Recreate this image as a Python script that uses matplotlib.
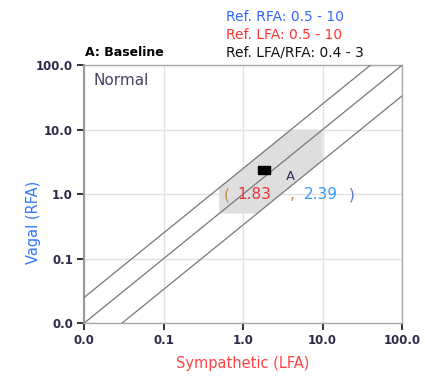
import numpy as np
import matplotlib
matplotlib.use("Agg")
import matplotlib.pyplot as plt
from matplotlib.ticker import FixedLocator, FormatStrFormatter, NullLocator

# Reference ranges
rfa_ref = [0.5, 10]
lfa_ref = [0.5, 10]
ratio_ref = [0.4, 3]   # LFA/RFA

# Measured point
point_label = "A"
lfa_val = 1.83
rfa_val = 2.39

ticks = [0.01, 0.1, 1, 10, 100]

fig = plt.figure(figsize=(4.25, 3.81), dpi=100)
ax = fig.add_axes([0.198, 0.152, 0.748, 0.677])
ax.set_xscale("log")
ax.set_yscale("log")
ax.set_xlim(0.01, 100)
ax.set_ylim(0.01, 100)

# normal zone: hexagon from LFA, RFA and ratio limits
lo, hi = lfa_ref
rlo, rhi = rfa_ref
poly_x = [lo, lo, rhi * ratio_ref[0], hi, hi, rlo * ratio_ref[1]]
poly_y = [rlo, lo / ratio_ref[0], rhi, rhi, hi / ratio_ref[1], rlo]
ax.fill(poly_x, poly_y, color="#dedede", zorder=2, lw=0)

# ratio lines
xx = np.array([0.01, 100])
for k in [ratio_ref[0], 1, ratio_ref[1]]:
    ax.plot(xx, xx / k, color="#777777", lw=0.9, zorder=3)

rect = [(-1.5, -1), (1.5, -1), (1.5, 1), (-1.5, 1), (-1.5, -1)]
ax.plot([lfa_val], [rfa_val], marker=rect, ms=8.6, color="black", ls="none", zorder=4)
ax.annotate(point_label, (lfa_val, rfa_val), xytext=(16, -5), textcoords="offset points",
            fontsize=9.5, color="#333355", va="center", ha="left")

# coordinate readout
kw = dict(textcoords="offset points", fontsize=11, va="center", ha="left")
ax.annotate("(", (lfa_val, rfa_val), xytext=(-29, -18), color="#cc8844", **kw)
ax.annotate("%.2f" % lfa_val, (lfa_val, rfa_val), xytext=(-19.5, -18), color="#ee3333", **kw)
ax.annotate(",", (lfa_val, rfa_val), xytext=(19, -18), color="#cc8844", **kw)
ax.annotate("%.2f" % rfa_val, (lfa_val, rfa_val), xytext=(29, -18), color="#3399ff", **kw)
ax.annotate(")", (lfa_val, rfa_val), xytext=(61, -18), color="#5577cc", **kw)

ax.text(0.03, 0.97, "Normal", transform=ax.transAxes, fontsize=11, color="#444466",
        va="top", ha="left")

ax.xaxis.set_major_locator(FixedLocator(ticks))
ax.yaxis.set_major_locator(FixedLocator(ticks))
ax.xaxis.set_minor_locator(NullLocator())
ax.yaxis.set_minor_locator(NullLocator())
ax.xaxis.set_major_formatter(FormatStrFormatter("%.1f"))
ax.yaxis.set_major_formatter(FormatStrFormatter("%.1f"))
ax.grid(True, color="#e2e2e2", lw=1, zorder=1)
ax.set_axisbelow(True)
ax.tick_params(direction="out", length=5, width=1.3, color="#222222", labelsize=8.5,
               labelcolor="#2b2b48", pad=3)
for lab in ax.get_xticklabels() + ax.get_yticklabels():
    lab.set_fontweight("bold")
for s in ax.spines.values():
    s.set_color("#aaaaaa")
    s.set_linewidth(1)
ax.spines["left"].set_color("#999999")
ax.spines["left"].set_linewidth(1.5)

ax.set_xlabel("Sympathetic (LFA)", color="#ff4444", fontsize=10.5, labelpad=6)
ax.set_ylabel("Vagal (RFA)", color="#3377ff", fontsize=10.5, labelpad=6)
ax.yaxis.set_label_coords(-0.135, 0.39)

fig.text(0.2, 0.845, "A: Baseline", fontsize=9, fontweight="bold", color="black", ha="left", va="bottom")
fig.text(0.532, 0.955, "Ref. RFA: %g - %g" % tuple(rfa_ref), fontsize=10, color="#3366ff", ha="left", va="center")
fig.text(0.532, 0.908, "Ref. LFA: %g - %g" % tuple(lfa_ref), fontsize=10, color="#ff3333", ha="left", va="center")
fig.text(0.532, 0.862, "Ref. LFA/RFA: %g - %g" % tuple(ratio_ref), fontsize=10, color="#111111", ha="left", va="center")

fig.savefig("out.png", dpi=100)
